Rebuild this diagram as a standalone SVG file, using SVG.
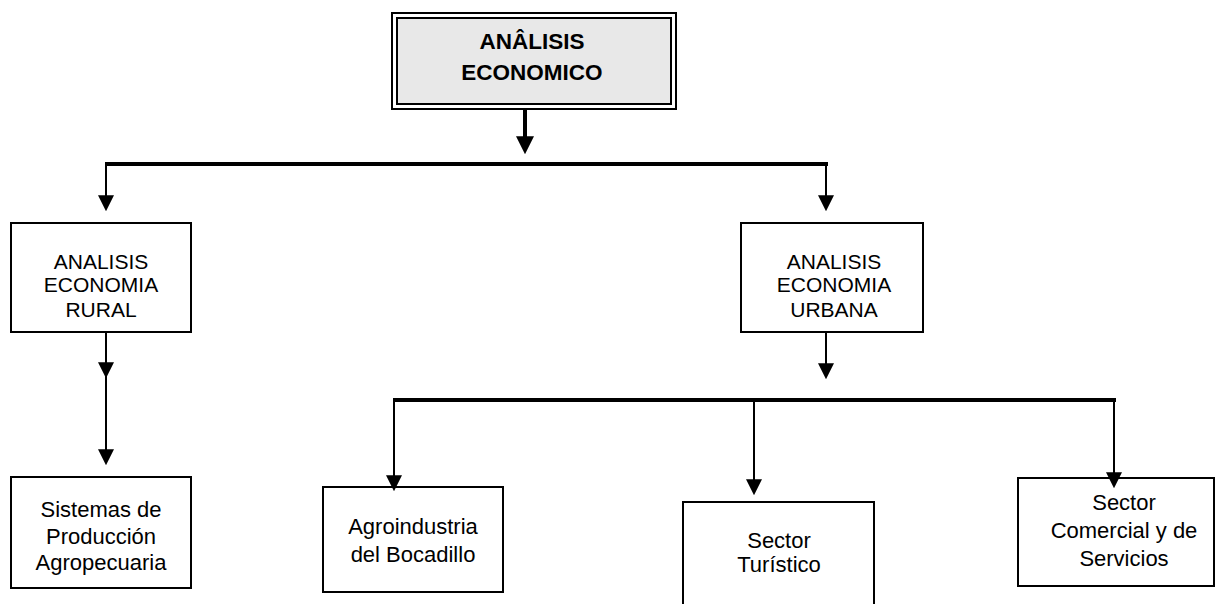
<svg xmlns="http://www.w3.org/2000/svg" width="1216" height="604" viewBox="0 0 1216 604">
<style>
  .box { fill: #ffffff; stroke: #000000; stroke-width: 2; }
  .txt { font-family: "Liberation Sans", Arial, sans-serif; font-size: 21px; fill: #000000; text-anchor: middle; }
  .txt2 { font-family: "Liberation Sans", Arial, sans-serif; font-size: 22px; fill: #000000; text-anchor: middle; }
  .title { font-family: "Liberation Sans", Arial, sans-serif; font-size: 22.5px; font-weight: bold; fill: #000000; text-anchor: middle; }
  .thin { stroke: #000000; stroke-width: 2; fill: none; }
  .thick { stroke: #000000; stroke-width: 4; fill: none; }
</style>
<defs>
  <marker id="ah" markerUnits="userSpaceOnUse" markerWidth="16" markerHeight="16" viewBox="0 0 15 15" refX="7.5" refY="12" orient="0">
    <path d="M0,0 L15,0 L7.5,15 Z" fill="#000000"/>
  </marker>
  <marker id="ahb" markerUnits="userSpaceOnUse" markerWidth="18" markerHeight="18" viewBox="0 0 17 17" refX="8.5" refY="13" orient="0">
    <path d="M0,0 L17,0 L8.5,17 Z" fill="#000000"/>
  </marker>
</defs>
<g id="node-analisis-economico">
  <rect class="box" x="392" y="13" width="284" height="96"/>
  <rect x="397" y="18" width="274" height="86" fill="#e8e8e8" stroke="#000000" stroke-width="2"/>
  <text class="title" x="532" y="49">ANÂLISIS</text>
  <text class="title" x="532" y="80">ECONOMICO</text>
</g>
<g id="node-rural">
  <rect class="box" x="11" y="223" width="180" height="109"/>
  <text class="txt" x="101" y="269">ANALISIS</text>
  <text class="txt" x="101" y="292">ECONOMIA</text>
  <text class="txt" x="101" y="316.5">RURAL</text>
</g>
<g id="node-urbana">
  <rect class="box" x="741" y="223" width="182" height="109"/>
  <text class="txt" x="834" y="269">ANALISIS</text>
  <text class="txt" x="834" y="292">ECONOMIA</text>
  <text class="txt" x="834" y="316.5">URBANA</text>
</g>
<g id="node-sistemas">
  <rect class="box" x="11" y="477" width="180" height="111"/>
  <text class="txt2" x="101" y="517">Sistemas de</text>
  <text class="txt2" x="101" y="543.5">Producción</text>
  <text class="txt2" x="101" y="570">Agropecuaria</text>
</g>
<g id="node-agroindustria">
  <rect class="box" x="323" y="487" width="180" height="105"/>
  <text class="txt2" x="413" y="534">Agroindustria</text>
  <text class="txt2" x="413" y="561.5">del Bocadillo</text>
</g>
<g id="node-turistico">
  <rect class="box" x="683" y="502" width="191" height="110"/>
  <text class="txt2" x="779" y="548">Sector</text>
  <text class="txt2" x="779" y="572">Turístico</text>
</g>
<g id="node-comercial">
  <rect class="box" x="1018" y="478" width="196" height="108"/>
  <text class="txt2" x="1124" y="510">Sector</text>
  <text class="txt2" x="1124" y="538">Comercial y de</text>
  <text class="txt2" x="1124" y="566">Servicios</text>
</g>
<g id="connectors">
  <line class="thick" x1="525" y1="109" x2="525" y2="150" marker-end="url(#ahb)"/>
  <line class="thick" x1="105" y1="164" x2="828" y2="164"/>
  <line class="thin" x1="106" y1="163" x2="106" y2="208" marker-end="url(#ah)"/>
  <line class="thin" x1="826" y1="163" x2="826" y2="208" marker-end="url(#ah)"/>
  <line class="thin" x1="106" y1="332" x2="106" y2="375" marker-end="url(#ah)"/>
  <line class="thin" x1="106" y1="375" x2="106" y2="462" marker-end="url(#ah)"/>
  <line class="thin" x1="826" y1="332" x2="826" y2="376" marker-end="url(#ah)"/>
  <line class="thick" x1="393" y1="400" x2="1116" y2="400"/>
  <line class="thin" x1="394" y1="399" x2="394" y2="488" marker-end="url(#ah)"/>
  <line class="thin" x1="754" y1="399" x2="754" y2="492" marker-end="url(#ah)"/>
  <line class="thin" x1="1114" y1="399" x2="1114" y2="485" marker-end="url(#ah)"/>
</g>
</svg>
